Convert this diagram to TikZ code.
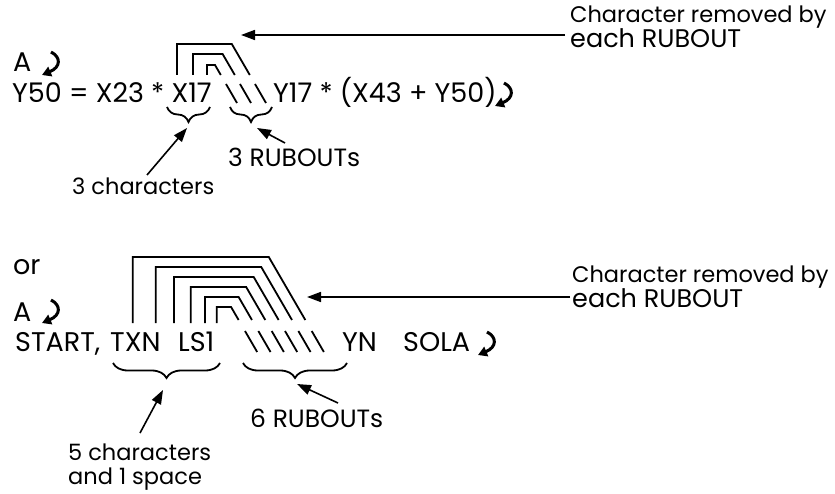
\documentclass[tikz,border=0pt]{standalone}
\usepackage{fontspec}
\setmainfont{Poppins}
\usetikzlibrary{arrows.meta,decorations.pathreplacing}
\tikzset{
  txt/.style={inner sep=0pt, anchor=base west, font=\fontsize{27}{30}\selectfont},
  lab/.style={inner sep=0pt, anchor=base west, font=\fontsize{22.5}{26}\selectfont},
  labcap/.style={inner sep=0pt, anchor=base west, font=\fontsize{25.5}{28}\selectfont},
  bracket/.style={line width=1.8pt, line join=miter},
  bracestyle/.style={line width=1.8pt, decorate, decoration={brace, amplitude=15pt}},
  pointer/.style={line width=1.6pt, -{Triangle[length=14pt,width=10pt]}},
}
\newcommand\retmark[1]{%
  \begin{scope}[shift={#1}]
    \draw[line width=3pt, -{Triangle[length=9pt,width=10pt]}] (11,0) .. controls (21,5) and (21,15) .. (2,23);
  \end{scope}}
\begin{document}
\begin{tikzpicture}[x=1pt,y=-1pt]
\path[use as bounding box] (0,0) rectangle (835,494);
% ---------- top section
\node[txt] (a1) at (13,72) {A};
\retmark{(40,52)}
\node[txt] (l1a) at (12,103) {Y50 = X23 * X17};
\node[txt] (l1b) at (273,103) {Y17 * (X43 + Y50)};
\retmark{(493,83)}
% brackets line 1
\draw[bracket] (207,75) -- (207,65) -- (215,65) -- (220.8,75);
\draw[bracket] (226,84) -- (237,103);
\draw[bracket] (193,75) -- (193,54) -- (222.6,54) -- (234.8,75);
\draw[bracket] (240,84) -- (251,103);
\draw[bracket] (177,75) -- (177,44) -- (231.8,44) -- (249.8,75);
\draw[bracket] (255,84) -- (266,103);
% braces
\draw[bracestyle] (210,107) -- (167,107);
\draw[bracestyle] (272,107) -- (230,107);
\node[lab] (r3) at (228,167) {\fontsize{25}{28}\selectfont 3 RUBOUTs};
\node[lab] (c3) at (72,195) {3 characters};
\coordinate (c3t) at (147,175);
\coordinate (c3h) at (187,128);
\coordinate (r3t) at (285,143);
\coordinate (r3h) at (257,128);
\draw[pointer] (c3t) -- (c3h);
\draw[pointer] (r3t) -- (r3h);
\node[lab] (lab1a) at (570,23) {Character removed by};
\node[labcap] (lab1b) at (570,48) {each RUBOUT};
\coordinate (ar1s) at (565,35);
\coordinate (ar1e) at (241,35);
\draw[pointer] (ar1s) -- (ar1e);
% ---------- second section
\node[txt] (or) at (13,275) {or};
\node[txt] (a2) at (13,321) {A};
\retmark{(40,300)}
\node[txt] (l2a) at (15,351) {START,};
\node[txt] (l2t) at (110,351) {TXN};
\node[txt] (l2l) at (178,351) {LS1};
\node[txt] (l2b) at (342,351) {YN};
\node[txt] (l2c) at (403,351) {SOLA};
\retmark{(476,332)}
\foreach \k/\vx/\tp in {0/216.7/307, 1/205/297, 2/190.7/287, 3/174/277, 4/155.7/267, 5/132.7/257}{
  \pgfmathsetmacro\bx{245+13.34*\k}
  \pgfmathsetmacro\cx{\bx-0.58*(331-\tp)}
  \pgfmathsetmacro\ex{\bx-0.58*11}
  \pgfmathsetmacro\bb{\bx+0.58*21}
  \draw[bracket] (\vx,323) -- (\vx,\tp) -- (\cx,\tp) -- (\ex,320);
  \draw[bracket] (\bx,331) -- (\bb,352);
}
\draw[bracestyle] (220,363) -- (113,363);
\draw[bracestyle] (347,363) -- (243,363);
\node[lab] (r6) at (250,427) {\fontsize{25}{28}\selectfont 6 RUBOUTs};
\node[lab] (c5) at (68,460) {5 characters};
\node[lab] (c5b) at (68,484) {and 1 space};
\coordinate (c5t) at (140,433);
\coordinate (c5h) at (163,390);
\coordinate (r6t) at (338,403);
\coordinate (r6h) at (297,384);
\draw[pointer] (c5t) -- (c5h);
\draw[pointer] (r6t) -- (r6h);
\node[lab] (lab2a) at (572,283) {Character removed by};
\node[labcap] (lab2b) at (572,307) {each RUBOUT};
\coordinate (ar2s) at (570,297);
\coordinate (ar2e) at (307,297);
\draw[pointer] (ar2s) -- (ar2e);
\end{tikzpicture}
\end{document}
